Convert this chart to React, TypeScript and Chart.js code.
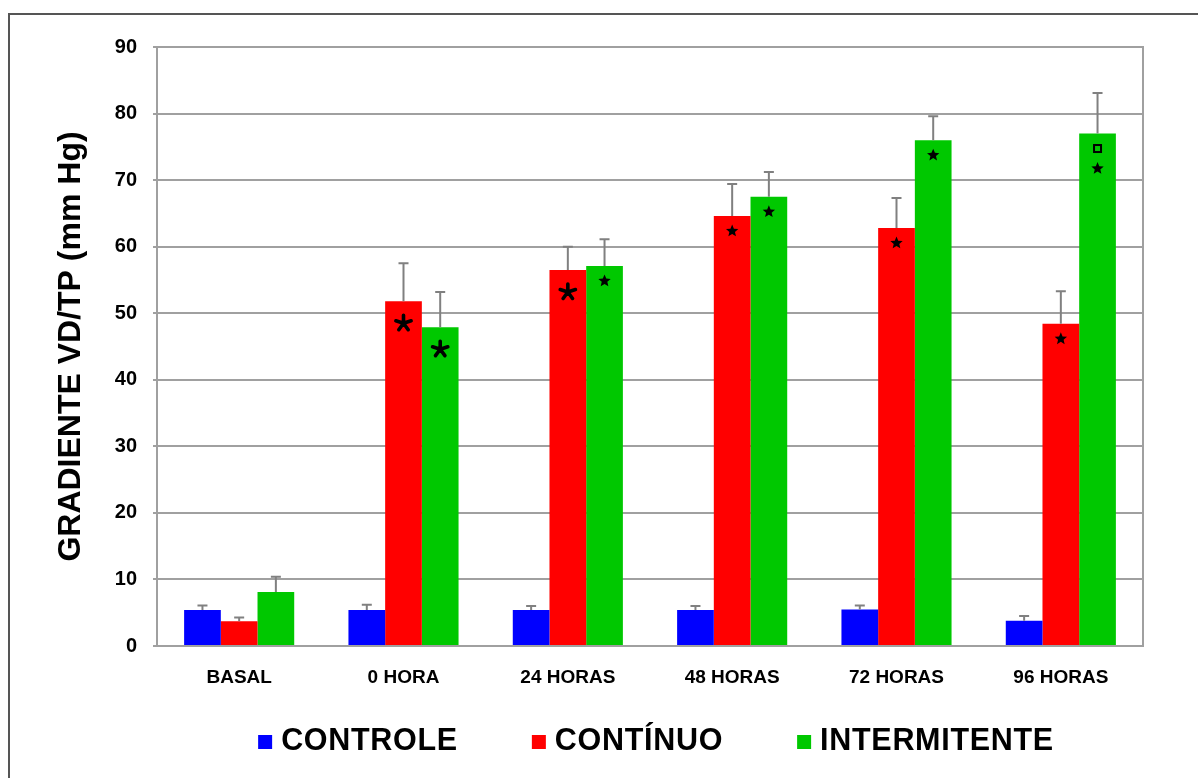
import React, { useEffect, useRef } from "react";
import { Chart, registerables } from "chart.js";

Chart.register(...registerables);

// Time points and series
const categories = ["BASAL", "0 HORA", "24 HORAS", "48 HORAS", "72 HORAS", "96 HORAS"];
const seriesNames = ["CONTROLE", "CONTÍNUO", "INTERMITENTE"];
const seriesColors = ["#0000ff", "#ff0000", "#00c800"];

// Mean gradient (mm Hg)
const controle = [5.4, 5.4, 5.4, 5.4, 5.5, 3.8];
const continuo = [3.7, 51.8, 56.5, 64.6, 62.8, 48.4];
const intermitente = [8.1, 47.9, 57.1, 67.5, 76.0, 77.0];

// Upper error (standard error) per point
const controleErr = [0.7, 0.8, 0.6, 0.6, 0.6, 0.7];
const continuoErr = [0.6, 5.7, 3.5, 4.8, 4.5, 4.9];
const intermitenteErr = [2.3, 5.3, 4.0, 3.7, 3.6, 6.1];

// Significance marks drawn inside the bars
const controleMarks = ["", "", "", "", "", ""];
const continuoMarks = ["", "asterisk", "asterisk", "star", "star", "star"];
const intermitenteMarks = ["", "asterisk", "star", "star", "star", "square+star"];

// Y axis
const yMin = 0;
const yMax = 90;
const yStep = 10;
const yTitle = "GRADIENTE VD/TP (mm Hg)";

const FONT = "'Liberation Sans', Arial, sans-serif";

function drawStar(ctx: CanvasRenderingContext2D, cx: number, cy: number, r: number) {
  ctx.beginPath();
  for (let k = 0; k < 10; k++) {
    const rad = k % 2 === 0 ? r : r * 0.45;
    const a = -Math.PI / 2 + (k * Math.PI) / 5;
    const px = cx + rad * Math.cos(a);
    const py = cy + rad * Math.sin(a);
    if (k === 0) ctx.moveTo(px, py);
    else ctx.lineTo(px, py);
  }
  ctx.closePath();
  ctx.fill();
}

function drawAsterisk(ctx: CanvasRenderingContext2D, cx: number, cy: number, r: number) {
  ctx.beginPath();
  for (let k = 0; k < 5; k++) {
    const a = -Math.PI / 2 + (k * 2 * Math.PI) / 5;
    ctx.moveTo(cx, cy);
    ctx.lineTo(cx + r * Math.cos(a), cy + r * Math.sin(a));
  }
  ctx.lineWidth = 3.6;
  ctx.lineCap = "round";
  ctx.stroke();
}

const errorBarsPlugin = {
  id: "errorBars",
  afterDatasetsDraw(chart: any) {
    const { ctx } = chart;
    const yScale = chart.scales.y;
    const errs = [controleErr, continuoErr, intermitenteErr];
    ctx.save();
    ctx.strokeStyle = "#808080";
    ctx.lineWidth = 2;
    chart.data.datasets.forEach((ds: any, i: number) => {
      const meta = chart.getDatasetMeta(i);
      meta.data.forEach((bar: any, j: number) => {
        const top = yScale.getPixelForValue(ds.data[j] + errs[i][j]);
        ctx.beginPath();
        ctx.moveTo(bar.x, bar.y);
        ctx.lineTo(bar.x, top);
        ctx.moveTo(bar.x - 5, top);
        ctx.lineTo(bar.x + 5, top);
        ctx.stroke();
      });
    });
    ctx.restore();
  },
};

const marksPlugin = {
  id: "sigMarks",
  afterDatasetsDraw(chart: any) {
    const { ctx } = chart;
    const marks = [controleMarks, continuoMarks, intermitenteMarks];
    ctx.save();
    ctx.fillStyle = "#000";
    ctx.strokeStyle = "#000";
    chart.data.datasets.forEach((_ds: any, i: number) => {
      const meta = chart.getDatasetMeta(i);
      meta.data.forEach((bar: any, j: number) => {
        const m = marks[i][j];
        if (!m) return;
        const x = bar.x;
        if (m === "asterisk") {
          drawAsterisk(ctx, x, bar.y + 22, 8);
        } else if (m === "star") {
          drawStar(ctx, x, bar.y + 15, 6.5);
        } else if (m === "square+star") {
          ctx.lineWidth = 2;
          ctx.strokeRect(x - 3.5, bar.y + 11.5, 7, 7);
          drawStar(ctx, x, bar.y + 35, 6.5);
        }
      });
    });
    ctx.restore();
  },
};

const framePlugin = {
  id: "frame",
  beforeDraw(chart: any) {
    const { ctx, width, height } = chart;
    ctx.save();
    ctx.fillStyle = "#ffffff";
    ctx.fillRect(0, 0, width, height);
    ctx.strokeStyle = "#555555";
    ctx.lineWidth = 2;
    ctx.beginPath();
    ctx.moveTo(9, height);
    ctx.lineTo(9, 14);
    ctx.lineTo(width, 14);
    ctx.stroke();
    ctx.restore();
  },
  afterDraw(chart: any) {
    const { ctx, chartArea } = chart;
    ctx.save();
    ctx.strokeStyle = "#a0a0a0";
    ctx.lineWidth = 2;
    ctx.strokeRect(chartArea.left, chartArea.top, chartArea.right - chartArea.left, chartArea.bottom - chartArea.top);
    ctx.restore();
  },
};

const legendPlugin = {
  id: "bottomLegend",
  afterDraw(chart: any) {
    const { ctx, chartArea } = chart;
    const box = 14;
    const boxGap = 9;
    const itemGap = 74;
    const cy = 741;
    ctx.save();
    ctx.font = `bold 30.5px ${FONT}`;
    (ctx as any).letterSpacing = "0.7px";
    ctx.textBaseline = "middle";
    ctx.textAlign = "left";
    const widths = chart.data.datasets.map((d: any) => ctx.measureText(d.label).width);
    const total =
      widths.reduce((a: number, b: number) => a + b, 0) + widths.length * (box + boxGap) + (widths.length - 1) * itemGap;
    let x = (chartArea.left + chartArea.right) / 2 + 6 - total / 2;
    chart.data.datasets.forEach((d: any, i: number) => {
      ctx.fillStyle = d.backgroundColor;
      ctx.fillRect(x, cy - box / 2 + 1, box, box);
      x += box + boxGap;
      ctx.fillStyle = "#000";
      ctx.fillText(d.label, x, cy + 1);
      x += widths[i] + itemGap;
    });
    ctx.restore();
  },
};

export default function App() {
  const canvasRef = useRef<HTMLCanvasElement | null>(null);

  useEffect(() => {
    if (!canvasRef.current) return;
    const seriesValues = [controle, continuo, intermitente];
    const chart = new Chart(canvasRef.current, {
      type: "bar",
      data: {
        labels: categories,
        datasets: seriesNames.map((name, i) => ({
          label: name,
          data: seriesValues[i],
          backgroundColor: seriesColors[i],
          borderWidth: 0,
          barPercentage: 1,
          categoryPercentage: 0.67,
        })),
      },
      options: {
        responsive: false,
        animation: false,
        devicePixelRatio: 1,
        layout: { padding: { top: 47, right: 55, bottom: 82, left: 0 } },
        plugins: {
          legend: { display: false },
          tooltip: { enabled: false },
        },
        scales: {
          x: {
            grid: { display: false },
            border: { display: false },
            ticks: {
              color: "#000",
              font: { family: FONT, size: 19, weight: "bold" },
              padding: 12,
              maxRotation: 0,
            },
            afterFit: (scale: any) => {
              scale.height = 50;
            },
          },
          y: {
            min: yMin,
            max: yMax,
            grid: { color: "#a0a0a0", lineWidth: 2, tickLength: 4 },
            border: { color: "#a0a0a0", width: 2 },
            ticks: {
              stepSize: yStep,
              color: "#000",
              font: { family: FONT, size: 20, weight: "bold" },
              padding: 16,
            },
            title: {
              display: true,
              text: yTitle,
              color: "#000",
              font: { family: FONT, size: 32, weight: "bold" },
              padding: { top: 52, bottom: 0 },
            },
            afterFit: (scale: any) => {
              scale.width = 157;
            },
          },
        },
      },
      plugins: [framePlugin, errorBarsPlugin, marksPlugin, legendPlugin],
    });
    return () => chart.destroy();
  }, []);

  return (
    <div style={{ position: "absolute", left: 0, top: 0, width: 1198, height: 778, background: "#fff" }}>
      <canvas ref={canvasRef} width={1198} height={778} style={{ display: "block" }} />
    </div>
  );
}
